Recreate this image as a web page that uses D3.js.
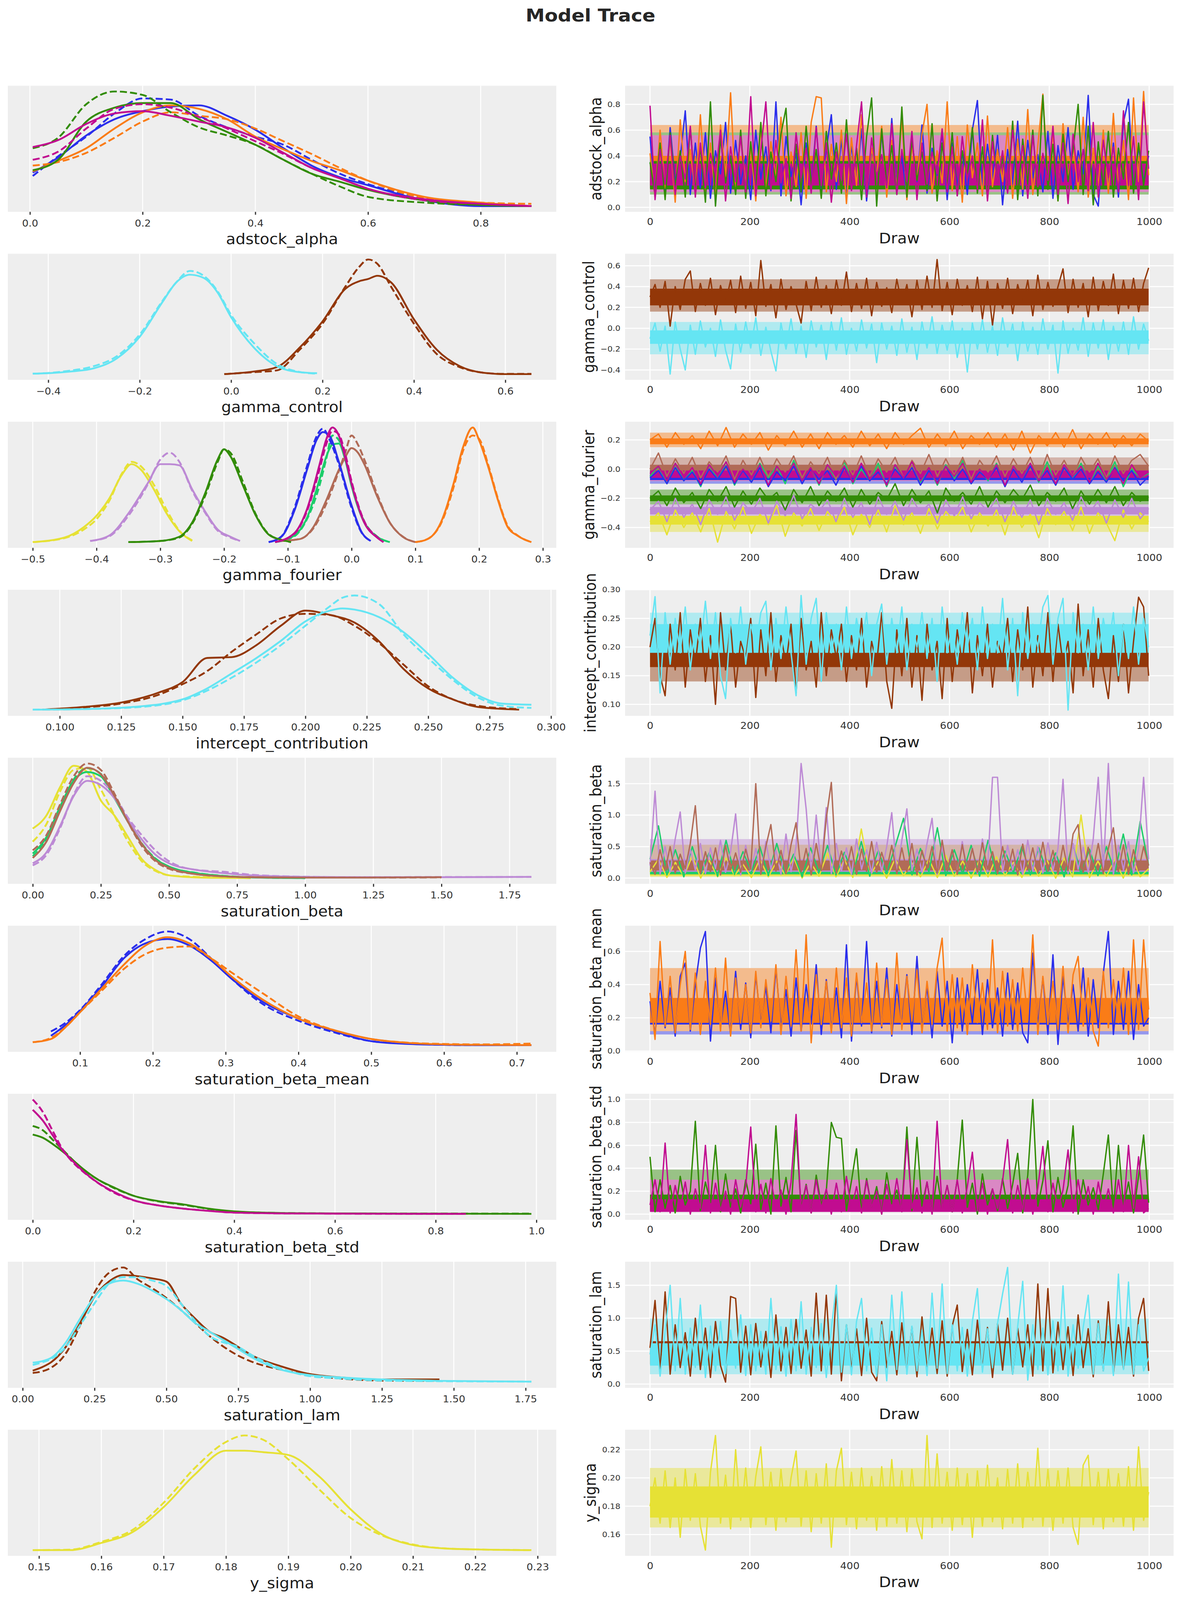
<!DOCTYPE html>
<html>
<head>
<meta charset="utf-8">
<script src="https://cdn.jsdelivr.net/npm/d3@7"></script>
<style>
  html, body { margin: 0; padding: 0; background: #fff; overflow: hidden; }
  svg { display: block; }
</style>
</head>
<body>
<div id="chart"></div>
<script>
// arviz-darkgrid colour cycle
const palette = ["#2a2eec", "#fa7c17", "#328c06", "#c10c90", "#933708", "#65e5f3", "#e6e135", "#1ccd6a", "#bd8ad5", "#b16b57"];
const drawTicks = [0, 200, 400, 600, 800, 1000];

// ---------- adstock_alpha ----------
const adstockAlphaGrid = [0.005, 0.05, 0.1, 0.15, 0.2, 0.25, 0.3, 0.35, 0.4, 0.45, 0.5, 0.55, 0.6, 0.7, 0.8, 0.89];
// relative density per dim: [solid chain, dashed chain]
const adstockAlphaKde = [
  [[0.29,0.42,0.61,0.75,0.82,0.86,0.87,0.78,0.66,0.50,0.35,0.25,0.18,0.05,0.0,0.0],
   [0.26,0.43,0.60,0.80,0.93,0.92,0.78,0.68,0.60,0.53,0.40,0.28,0.19,0.07,0.02,0.0]],
  [[0.30,0.39,0.50,0.67,0.81,0.87,0.84,0.75,0.60,0.49,0.39,0.31,0.22,0.08,0.03,0.0],
   [0.35,0.38,0.46,0.59,0.73,0.81,0.78,0.75,0.67,0.56,0.45,0.33,0.22,0.07,0.03,0.02]],
  [[0.31,0.40,0.73,0.85,0.89,0.89,0.75,0.64,0.53,0.40,0.28,0.21,0.14,0.05,0.01,0.0],
   [0.50,0.59,0.88,0.99,0.96,0.81,0.68,0.61,0.53,0.40,0.28,0.17,0.08,0.03,0.01,0.0]],
  [[0.51,0.57,0.71,0.80,0.82,0.78,0.73,0.68,0.59,0.46,0.33,0.24,0.15,0.06,0.02,0.0],
   [0.40,0.47,0.67,0.84,0.88,0.85,0.77,0.67,0.56,0.45,0.33,0.24,0.15,0.05,0.02,0.0]]
];
const adstockAlphaTrace = [
  [0.55,0.12,0.48,0.09,0.62,0.2,0.38,0.75,0.1,0.5, 0.15,0.58,0.07,0.44,0.26,0.66,0.11,0.52,0.18,0.4, 0.06,0.6,0.22,0.47,0.13,0.82,0.09,0.55,0.24,0.42, 0.02,0.5,0.16,0.63,0.1,0.45,0.72,0.14,0.53,0.08, 0.48,0.19,0.61,0.05,0.44,0.27,0.57,0.12,0.69,0.15,
   0.4,0.08,0.52,0.2,0.64,0.11,0.46,0.25,0.58,0.06, 0.5,0.17,0.43,0.1,0.6,0.83,0.13,0.49,0.21,0.56, 0.02,0.45,0.18,0.67,0.09,0.52,0.23,0.41,0.12,0.59, 0.07,0.48,0.2,0.62,0.14,0.44,0.26,0.87,0.1,0.01, 0.55,0.16,0.5,0.08,0.66,0.84,0.12,0.47,0.2,0.4],
  [0.42,0.08,0.6,0.15,0.53,0.04,0.68,0.2,0.45,0.1, 0.72,0.13,0.5,0.06,0.64,0.24,0.89,0.11,0.56,0.18, 0.47,0.05,0.62,0.14,0.51,0.22,0.7,0.09,0.43,0.16, 0.58,0.07,0.66,0.86,0.85,0.12,0.49,0.2,0.6,0.03, 0.54,0.17,0.72,0.1,0.46,0.25,0.63,0.08,0.52,0.15,
   0.69,0.06,0.48,0.21,0.57,0.8,0.11,0.44,0.19,0.82, 0.13,0.55,0.04,0.64,0.23,0.5,0.09,0.71,0.16,0.45, 0.2,0.62,0.07,0.53,0.14,0.76,0.1,0.48,0.88,0.18, 0.58,0.05,0.65,0.22,0.5,0.12,0.7,0.08,0.46,0.17, 0.6,0.11,0.73,0.15,0.52,0.06,0.85,0.2,0.9,0.25],
  [0.35,0.1,0.5,0.06,0.58,0.16,0.44,0.08,0.62,0.13, 0.47,0.04,0.82,0.01,0.54,0.19,0.4,0.1,0.6,0.07, 0.51,0.15,0.66,0.09,0.43,0.2,0.57,0.77,0.05,0.49, 0.12,0.63,0.18,0.45,0.07,0.59,0.22,0.5,0.11,0.68, 0.14,0.46,0.06,0.55,0.85,0.01,0.61,0.17,0.48,0.1,
   0.78,0.08,0.52,0.21,0.43,0.13,0.65,0.05,0.5,0.16, 0.58,0.09,0.44,0.24,0.62,0.11,0.47,0.07,0.56,0.19, 0.4,0.12,0.67,0.06,0.53,0.18,0.6,0.09,0.87,0.14, 0.49,0.05,0.57,0.2,0.45,0.8,0.1,0.63,0.02,0.51, 0.15,0.59,0.08,0.46,0.22,0.66,0.11,0.5,0.17,0.44],
  [0.79,0.06,0.45,0.18,0.56,0.1,0.4,0.22,0.63,0.08, 0.5,0.15,0.42,0.25,0.6,0.05,0.47,0.2,0.55,0.12, 0.86,0.09,0.44,0.82,0.14,0.52,0.19,0.38,0.07,0.58, 0.23,0.46,0.11,0.62,0.17,0.5,0.04,0.43,0.21,0.57, 0.13,0.48,0.82,0.08,0.54,0.24,0.41,0.15,0.65,0.1,
   0.45,0.2,0.59,0.06,0.5,0.18,0.43,0.26,0.61,0.12, 0.47,0.09,0.55,0.22,0.4,0.14,0.68,0.05,0.51,0.19, 0.44,0.11,0.6,0.25,0.48,0.07,0.56,0.16,0.42,0.21, 0.63,0.1,0.5,0.03,0.57,0.2,0.45,0.13,0.66,0.08, 0.52,0.23,0.47,0.12,0.75,0.17,0.55,0.06,0.82,0.3]
];
const adstockAlphaCore = [[0.15,0.38],[0.15,0.4],[0.14,0.36],[0.17,0.34]];

// ---------- gamma_control ----------
const gammaControlGrid = [
  [-0.015,0.05,0.1,0.15,0.2,0.25,0.28,0.3,0.32,0.35,0.4,0.45,0.5,0.55,0.6,0.657],
  [-0.434,-0.4,-0.35,-0.3,-0.25,-0.2,-0.15,-0.12,-0.09,-0.06,-0.03,0,0.05,0.1,0.15,0.188]
];
const gammaControlKde = [
  [[0,0.023,0.061,0.231,0.459,0.744,0.81,0.83,0.858,0.80,0.478,0.213,0.070,0.013,0,0],
   [0,0.017,0.032,0.213,0.44,0.763,0.934,1.0,0.962,0.763,0.44,0.175,0.061,0.013,0.002,0.002]],
  [[0.004,0.008,0.023,0.051,0.137,0.326,0.63,0.80,0.867,0.839,0.715,0.497,0.231,0.070,0.017,0.008],
   [0.004,0.01,0.032,0.07,0.156,0.345,0.64,0.80,0.90,0.858,0.725,0.516,0.27,0.089,0.019,0.004]]
];
const gammaControlTrace = [
  [0.3,0.42,0.2,0.45,0.02,0.4,0.18,0.47,0.55,0.16, 0.43,0.22,0.48,0.13,0.41,0.24,0.46,0.15,0.5,0.19, 0.44,0.12,0.65,0.21,0.42,0.1,0.47,0.18,0.4,0.23, 0.05,0.45,0.17,0.49,0.2,0.41,0.14,0.46,0.22,0.54, 0.16,0.43,0.19,0.48,0.12,0.44,0.21,0.39,0.15,0.47,
   0.23,0.42,0.11,0.46,0.18,0.5,0.2,0.66,0.17,0.44, 0.13,0.47,0.22,0.41,0.16,0.49,0.09,0.45,0.03,0.43, 0.19,0.48,0.14,0.42,0.23,0.46,0.12,0.51,0.18,0.44, 0.21,0.4,0.57,0.15,0.47,0.2,0.43,0.11,0.49,0.17, 0.45,0.22,0.52,0.14,0.46,0.19,0.48,0.16,0.43,0.58],
  [-0.1,0.05,-0.22,0.02,-0.44,0.06,-0.2,-0.4,0.03,-0.25, 0.07,-0.18,0.0,-0.27,0.08,-0.21,-0.39,0.04,-0.23,0.06, -0.19,0.1,-0.26,0.01,-0.22,-0.41,0.05,-0.2,0.09,-0.24, 0.02,-0.28,0.07,-0.18,0.03,-0.3,0.06,-0.21,0.1,-0.25, 0.0,-0.22,0.08,-0.19,0.04,-0.33,0.05,-0.2,0.02,-0.26,
   0.09,-0.23,0.01,-0.3,0.06,-0.19,0.11,-0.24,0.03,-0.21, 0.07,-0.28,0.0,-0.42,0.05,-0.2,0.08,-0.23,0.02,-0.26, 0.1,-0.18,0.04,-0.31,0.06,-0.22,0.01,-0.25,0.09,-0.2, 0.03,-0.43,0.07,-0.24,0.0,-0.21,0.1,-0.27,0.05,-0.19, 0.08,-0.3,0.02,-0.22,0.06,-0.25,0.11,-0.2,0.04,-0.12]
];
const gammaControlCore = [[0.22,0.38],[-0.15,-0.02]];

// ---------- gamma_fourier ----------
const gammaFourierGrid = [
  [-0.5,-0.45,-0.42,-0.4,-0.38,-0.36,-0.345,-0.33,-0.31,-0.29,-0.27,-0.25],
  [-0.12,-0.09,-0.07,-0.05,-0.04,-0.03,-0.02,-0.01,0,0.02,0.04,0.06],
  [-0.41,-0.38,-0.35,-0.32,-0.3,-0.285,-0.27,-0.25,-0.23,-0.21,-0.19,-0.175],
  [-0.11,-0.08,-0.06,-0.04,-0.02,-0.01,0,0.01,0.02,0.04,0.06,0.08,0.1],
  [-0.13,-0.11,-0.09,-0.07,-0.055,-0.045,-0.035,-0.02,0,0.015,0.03],
  [0.1,0.12,0.14,0.16,0.175,0.19,0.2,0.215,0.23,0.245,0.26,0.282],
  [-0.35,-0.3,-0.27,-0.25,-0.23,-0.21,-0.2,-0.19,-0.17,-0.15,-0.13,-0.11,-0.095],
  [-0.12,-0.09,-0.07,-0.05,-0.04,-0.03,-0.02,-0.01,0,0.02,0.04,0.05]
];
const gammaFourierKde = [
  [[0,0.04,0.13,0.23,0.38,0.59,0.68,0.63,0.46,0.25,0.095,0.01],
   [0,0.035,0.11,0.2,0.36,0.6,0.7,0.66,0.5,0.28,0.1,0.015]],
  [[0,0.057,0.21,0.55,0.74,0.85,0.86,0.72,0.49,0.17,0.047,0],
   [0,0.05,0.2,0.5,0.72,0.93,0.89,0.74,0.5,0.18,0.05,0]],
  [[0.01,0.057,0.25,0.51,0.68,0.68,0.67,0.46,0.27,0.11,0.047,0.01],
   [0.01,0.05,0.23,0.5,0.72,0.78,0.70,0.45,0.26,0.1,0.04,0.01]],
  [[0.01,0.028,0.13,0.36,0.63,0.74,0.82,0.78,0.68,0.40,0.17,0.047,0],
   [0.01,0.03,0.12,0.33,0.62,0.78,0.93,0.85,0.72,0.42,0.17,0.05,0]],
  [[0,0.047,0.27,0.63,0.89,0.96,0.93,0.70,0.32,0.095,0.01],
   [0,0.05,0.29,0.66,0.92,0.99,0.9,0.68,0.3,0.09,0.01]],
  [[0,0.028,0.17,0.51,0.83,1.0,0.89,0.645,0.36,0.13,0.057,0],
   [0,0.03,0.16,0.48,0.8,0.93,0.9,0.66,0.37,0.14,0.06,0]],
  [[0,0.01,0.047,0.17,0.42,0.72,0.81,0.75,0.49,0.23,0.066,0.02,0],
   [0,0.01,0.04,0.16,0.4,0.7,0.81,0.78,0.52,0.24,0.07,0.02,0]],
  [[0,0.076,0.285,0.68,0.89,1.0,0.93,0.74,0.51,0.17,0.04,0],
   [0,0.07,0.27,0.64,0.85,0.97,0.94,0.77,0.53,0.18,0.045,0]]
];
const gammaFourierTrace = [
  [-0.36,-0.3,-0.45,-0.28,-0.4,-0.3,-0.43,-0.27,-0.5,-0.29,-0.41,-0.26,-0.44,-0.31,-0.38,-0.25,-0.46,-0.3,-0.39,-0.27,-0.42,-0.29,-0.37,-0.26,-0.45,-0.31,-0.4,-0.28,-0.43,-0.25,-0.38,-0.3,-0.44,-0.27,-0.41,-0.29,-0.36,-0.26,-0.43,-0.3,-0.39,-0.28,-0.45,-0.26,-0.4,-0.31,-0.47,-0.27,-0.38,-0.29,-0.42,-0.26,-0.44,-0.3,-0.37,-0.49,-0.28,-0.41,-0.3,-0.36],
  [-0.05,0.02,-0.1,0.04,-0.08,-0.01,-0.12,0.03,-0.07,0.05,-0.11,0.0,-0.09,0.04,-0.06,0.02,-0.1,0.06,-0.08,0.01,-0.11,0.03,-0.07,0.05,-0.1,0.0,-0.08,0.04,-0.12,0.02,-0.06,0.05,-0.09,0.01,-0.11,0.03,-0.07,0.06,-0.1,0.0,-0.08,0.04,-0.12,0.02,-0.06,0.03,-0.09,0.05,-0.11,0.01,-0.07,0.04,-0.1,0.02,-0.08,0.05,-0.12,0.0,-0.06,-0.03],
  [-0.28,-0.22,-0.36,-0.2,-0.33,-0.24,-0.38,-0.21,-0.31,-0.19,-0.35,-0.23,-0.3,-0.2,-0.37,-0.22,-0.32,-0.18,-0.34,-0.24,-0.29,-0.21,-0.36,-0.2,-0.33,-0.23,-0.38,-0.19,-0.31,-0.22,-0.35,-0.2,-0.3,-0.24,-0.37,-0.21,-0.32,-0.19,-0.34,-0.23,-0.29,-0.2,-0.36,-0.22,-0.33,-0.21,-0.38,-0.2,-0.31,-0.23,-0.35,-0.19,-0.3,-0.22,-0.37,-0.21,-0.33,-0.2,-0.34,-0.27],
  [0.0,0.11,-0.05,0.07,-0.03,0.08,-0.06,0.05,-0.02,0.09,-0.07,0.06,-0.04,0.08,-0.05,0.07,-0.02,0.09,-0.06,0.05,-0.03,0.08,-0.07,0.06,-0.04,0.09,-0.05,0.07,-0.02,0.08,-0.06,0.06,-0.03,0.1,-0.05,0.07,-0.04,0.08,-0.07,0.06,-0.02,0.09,-0.05,0.07,-0.03,0.08,-0.06,0.1,-0.04,0.06,-0.05,0.08,-0.02,0.07,-0.06,0.09,-0.03,0.06,0.1,0.02],
  [-0.06,-0.01,-0.1,0.01,-0.08,-0.02,-0.11,0.0,-0.07,0.02,-0.1,-0.01,-0.09,0.01,-0.12,-0.02,-0.08,0.02,-0.1,0.0,-0.07,-0.01,-0.11,0.01,-0.09,0.02,-0.08,-0.02,-0.1,0.0,-0.07,0.01,-0.11,-0.01,-0.09,0.02,-0.08,0.0,-0.1,-0.02,-0.07,0.01,-0.12,0.0,-0.09,0.02,-0.08,-0.01,-0.11,0.01,-0.07,0.0,-0.1,-0.02,-0.09,0.01,-0.08,-0.01,-0.11,-0.05],
  [0.2,0.24,0.15,0.25,0.17,0.23,0.14,0.26,0.16,0.285,0.15,0.24,0.17,0.25,0.13,0.23,0.16,0.26,0.15,0.24,0.14,0.25,0.17,0.23,0.15,0.26,0.16,0.24,0.14,0.25,0.17,0.23,0.28,0.15,0.24,0.16,0.26,0.14,0.23,0.17,0.25,0.15,0.24,0.13,0.26,0.11,0.23,0.16,0.25,0.15,0.27,0.14,0.24,0.17,0.25,0.15,0.23,0.16,0.24,0.19],
  [-0.2,-0.15,-0.25,-0.13,-0.23,-0.16,-0.27,-0.14,-0.22,-0.12,-0.26,-0.15,-0.24,-0.13,-0.21,-0.16,-0.28,-0.14,-0.23,-0.12,-0.25,-0.15,-0.22,-0.13,-0.26,-0.14,-0.24,-0.16,-0.21,-0.1,-0.25,-0.14,-0.23,-0.15,-0.3,-0.13,-0.22,-0.16,-0.24,-0.12,-0.26,-0.15,-0.23,-0.14,-0.21,-0.11,-0.25,-0.16,-0.22,-0.13,-0.27,-0.15,-0.24,-0.14,-0.23,-0.12,-0.25,-0.16,-0.22,-0.19],
  [-0.03,0.02,-0.08,0.04,-0.06,0.01,-0.1,0.03,-0.05,0.05,-0.09,0.0,-0.07,0.03,-0.11,0.02,-0.06,0.04,-0.08,0.01,-0.1,0.03,-0.05,0.02,-0.09,0.04,-0.07,0.0,-0.11,0.03,-0.06,0.05,-0.08,0.01,-0.1,0.02,-0.05,0.04,-0.09,0.0,-0.07,0.03,-0.11,0.02,-0.06,0.04,-0.08,0.01,-0.1,0.03,-0.05,0.02,-0.09,0.04,-0.07,0.0,-0.1,0.03,-0.06,-0.02]
];
const gammaFourierCore = [[-0.38,-0.32],[-0.06,-0.01],[-0.31,-0.26],[-0.02,0.03],[-0.075,-0.03],[0.17,0.21],[-0.22,-0.18],[-0.06,-0.01]];

// ---------- intercept_contribution ----------
const interceptGrid = [
  [0.093,0.11,0.125,0.14,0.15,0.16,0.17,0.18,0.19,0.2,0.21,0.22,0.23,0.24,0.25,0.26,0.27,0.287],
  [0.089,0.11,0.13,0.15,0.16,0.17,0.18,0.19,0.2,0.21,0.215,0.22,0.23,0.24,0.25,0.26,0.27,0.28,0.292]
];
const interceptKde = [
  [[0.004,0.028,0.066,0.151,0.245,0.455,0.462,0.566,0.736,0.868,0.83,0.764,0.60,0.358,0.189,0.094,0.028,0.004],
   [0.004,0.023,0.057,0.132,0.226,0.34,0.509,0.66,0.80,0.84,0.83,0.736,0.585,0.396,0.208,0.094,0.038,0.009]],
  [[0.004,0.009,0.028,0.094,0.189,0.32,0.453,0.604,0.774,0.868,0.887,0.877,0.811,0.679,0.49,0.283,0.132,0.057,0.047],
   [0.004,0.009,0.023,0.085,0.17,0.283,0.415,0.566,0.736,0.906,0.98,1.0,0.925,0.66,0.453,0.264,0.113,0.038,0.019]]
];
const interceptTrace = [
  [0.2,0.25,0.15,0.115,0.24,0.16,0.26,0.13,0.23,0.17, 0.25,0.14,0.22,0.1,0.26,0.16,0.24,0.13,0.21,0.18, 0.25,0.112,0.23,0.15,0.26,0.14,0.22,0.17,0.24,0.12, 0.25,0.16,0.21,0.13,0.26,0.15,0.23,0.18,0.24,0.14, 0.22,0.16,0.25,0.13,0.21,0.17,0.26,0.14,0.093,0.23,
   0.15,0.25,0.13,0.22,0.107,0.24,0.16,0.21,0.11,0.25, 0.14,0.23,0.17,0.26,0.12,0.22,0.15,0.24,0.13,0.21, 0.18,0.25,0.14,0.23,0.16,0.27,0.13,0.22,0.15,0.26, 0.14,0.24,0.17,0.21,0.12,0.275,0.15,0.23,0.13,0.25, 0.16,0.11,0.22,0.14,0.24,0.12,0.21,0.287,0.27,0.15],
  [0.22,0.288,0.12,0.26,0.17,0.25,0.19,0.27,0.16,0.24, 0.2,0.28,0.18,0.26,0.15,0.11,0.25,0.19,0.27,0.17, 0.24,0.2,0.26,0.28,0.16,0.25,0.18,0.27,0.19,0.115, 0.29,0.17,0.25,0.285,0.14,0.26,0.19,0.24,0.16,0.27, 0.18,0.25,0.2,0.26,0.15,0.24,0.275,0.17,0.25,0.19,
   0.27,0.16,0.24,0.2,0.26,0.18,0.25,0.14,0.27,0.19, 0.24,0.17,0.26,0.2,0.25,0.16,0.27,0.18,0.24,0.19, 0.285,0.16,0.25,0.115,0.26,0.18,0.24,0.2,0.27,0.29, 0.17,0.25,0.285,0.09,0.26,0.19,0.24,0.16,0.27,0.18, 0.25,0.2,0.26,0.15,0.24,0.18,0.27,0.17,0.25,0.2]
];
const interceptCore = [[0.165,0.21],[0.19,0.24]];

// ---------- saturation_beta ----------
const satBetaGridFull = [0,0.05,0.1,0.15,0.2,0.25,0.3,0.35,0.4,0.45,0.5,0.6,0.7,0.8,1.0,1.2,1.5,1.83];
const satBetaGrid = [
  [0,0.05,0.1,0.15,0.2,0.25,0.3,0.35,0.4,0.45,0.5,0.6,0.7,0.8],
  [0,0.05,0.1,0.15,0.2,0.25,0.3,0.35,0.4,0.45,0.5,0.6,0.7,0.8,1.0],
  satBetaGridFull,
  [0,0.05,0.1,0.15,0.2,0.25,0.3,0.35,0.4,0.45,0.5,0.6,0.7,0.8,1.0,1.2,1.5]
];
const satBetaKde = [
  [[0.428,0.54,0.784,0.97,0.916,0.67,0.54,0.353,0.165,0.071,0.024,0.006,0.002,0],
   [0.315,0.465,0.747,0.934,0.953,0.765,0.54,0.315,0.146,0.062,0.024,0.011,0.004,0]],
  [[0.212,0.353,0.615,0.84,0.916,0.878,0.69,0.484,0.296,0.165,0.10,0.043,0.019,0.006,0],
   [0.19,0.33,0.6,0.85,0.95,0.9,0.7,0.49,0.3,0.17,0.1,0.045,0.02,0.007,0]],
  [[0.128,0.221,0.447,0.709,0.84,0.803,0.69,0.503,0.334,0.203,0.128,0.071,0.043,0.024,0.011,0.008,0.008,0.011],
   [0.11,0.2,0.43,0.72,0.88,0.84,0.709,0.52,0.37,0.24,0.146,0.071,0.055,0.03,0.012,0.008,0.01,0.01]],
  [[0.174,0.315,0.578,0.82,0.953,0.897,0.709,0.484,0.296,0.156,0.09,0.034,0.015,0.008,0.004,0.004,0.008],
   [0.24,0.37,0.634,0.878,0.99,0.934,0.728,0.484,0.278,0.146,0.08,0.034,0.015,0.008,0.004,0.004,0.006]]
];
const satBetaTrace = [
  [0.1,0.3,0.01,0.25,0.03,0.35,0.0,0.28,0.02,0.32,0.04,0.22,0.01,0.3,0.02,0.27,0.05,0.33,0.0,0.25,0.03,0.4,0.02,0.29,0.01,0.78,0.03,0.26,0.0,0.31,0.04,0.24,0.02,0.3,0.01,0.36,0.03,0.27,0.0,0.29,0.02,0.34,0.04,0.25,0.01,0.3,0.03,0.28,0.0,0.32,0.02,1.0,0.01,0.27,0.03,0.3,0.0,0.35,0.02,0.15],
  [0.3,0.83,0.05,0.45,0.02,0.5,0.08,0.4,0.03,0.6,0.06,0.42,0.1,0.5,0.04,0.55,0.07,0.38,0.02,0.48,0.09,0.52,0.05,0.41,0.06,0.58,0.03,0.44,0.08,0.5,0.95,0.05,0.47,0.1,0.8,0.04,0.45,0.07,0.52,0.03,0.6,0.06,0.43,0.09,0.5,0.05,0.48,0.08,0.4,0.02,0.55,0.07,0.46,0.04,0.5,0.09,0.7,0.05,0.9,0.2],
  [0.2,1.38,0.06,0.5,0.1,0.62,1.05,0.08,0.45,0.13, 0.55,0.07,0.48,0.15,0.6,0.09,0.42,1.02,0.05,0.52, 0.12,0.47,0.08,0.58,0.14,0.44,0.06,0.7,0.1,0.5, 1.82,1.1,0.09,1.0,0.13,1.12,0.07,0.55,0.11,0.48, 0.06,0.62,0.14,0.45,0.08,0.57,0.1,0.5,1.04,0.07,
   0.6,1.1,0.12,0.46,0.09,0.55,0.95,0.06,0.5,0.13, 0.44,0.08,0.58,0.11,0.48,0.07,0.62,0.1,1.6,1.6, 0.09,0.52,0.13,0.45,0.06,0.6,0.11,0.5,0.08,0.56, 0.12,0.47,1.57,0.07,0.55,0.14,0.49,0.09,0.62,1.6, 0.1,1.82,0.06,0.52,0.13,0.58,0.08,0.47,1.6,0.3],
  [0.25,0.06,0.45,0.12,0.5,0.08,0.38,0.15,0.55,1.15, 0.07,0.42,0.1,0.48,0.05,0.52,0.13,0.4,0.09,0.46, 0.14,1.5,0.06,0.5,0.85,0.11,0.44,0.07,0.53,0.88, 0.1,0.47,0.05,0.55,0.12,0.95,1.52,0.08,0.43,0.14, 0.5,0.06,0.46,0.11,0.58,0.09,0.41,0.13,0.52,0.07,
   0.48,0.1,0.55,0.05,0.44,0.15,0.5,0.08,0.6,0.12, 0.45,0.06,0.53,0.11,0.47,0.09,0.56,0.14,0.42,0.07, 0.5,0.1,0.46,0.05,0.54,0.13,0.48,0.08,0.57,0.11, 0.44,0.06,0.52,0.12,0.7,0.85,0.09,0.49,0.14,0.55, 0.07,0.47,0.8,0.1,0.53,0.06,0.45,0.12,0.5,0.2]
];
const satBetaCore = [[0.04,0.15],[0.06,0.22],[0.1,0.3],[0.12,0.28]];

// ---------- saturation_beta_mean ----------
const satBetaMeanGrid = [
  [0.06,0.08,0.1,0.13,0.16,0.19,0.22,0.25,0.28,0.31,0.35,0.4,0.45,0.5,0.55,0.6,0.65,0.72],
  [0.035,0.06,0.08,0.1,0.13,0.16,0.19,0.22,0.25,0.28,0.31,0.35,0.4,0.45,0.5,0.55,0.6,0.65,0.72]
];
const satBetaMeanKde = [
  [[0.09,0.184,0.306,0.522,0.765,0.897,0.934,0.878,0.747,0.578,0.39,0.24,0.128,0.043,0.019,0.011,0.008,0.008],
   [0.128,0.203,0.315,0.54,0.784,0.934,1.0,0.934,0.765,0.578,0.371,0.221,0.118,0.043,0.022,0.011,0.008,0.008]],
  [[0.034,0.062,0.165,0.296,0.503,0.709,0.878,0.95,0.897,0.765,0.597,0.409,0.24,0.137,0.062,0.028,0.015,0.011,0.009],
   [0.034,0.071,0.165,0.296,0.484,0.672,0.803,0.859,0.869,0.765,0.634,0.465,0.259,0.137,0.062,0.03,0.019,0.015,0.022]]
];
const satBetaMeanTrace = [
  [0.3,0.1,0.42,0.14,0.38,0.09,0.45,0.53,0.12,0.4, 0.62,0.72,0.06,0.44,0.15,0.36,0.1,0.48,0.13,0.41, 0.08,0.46,0.16,0.39,0.11,0.5,0.14,0.37,0.09,0.44, 0.12,0.4,0.17,0.52,0.1,0.43,0.13,0.38,0.08,0.64, 0.06,0.45,0.15,0.66,0.11,0.42,0.14,0.5,0.09,0.4,
   0.16,0.46,0.1,0.57,0.13,0.39,0.08,0.48,0.15,0.42, 0.05,0.44,0.12,0.4,0.17,0.49,0.1,0.43,0.14,0.38, 0.09,0.47,0.13,0.41,0.11,0.05,0.59,0.15,0.44,0.1, 0.58,0.04,0.45,0.16,0.4,0.12,0.5,0.09,0.43,0.14, 0.47,0.72,0.1,0.42,0.13,0.48,0.07,0.4,0.15,0.2],
  [0.35,0.07,0.66,0.15,0.45,0.11,0.4,0.6,0.13,0.47, 0.1,0.42,0.16,0.5,0.12,0.56,0.09,0.44,0.17,0.4, 0.11,0.48,0.14,0.43,0.18,0.52,0.1,0.45,0.15,0.61, 0.12,0.7,0.05,0.46,0.16,0.42,0.11,0.5,0.14,0.44, 0.09,0.47,0.17,0.41,0.12,0.53,0.15,0.43,0.1,0.59,
   0.13,0.45,0.18,0.49,0.11,0.42,0.16,0.5,0.68,0.12, 0.46,0.14,0.44,0.1,0.52,0.17,0.41,0.13,0.67,0.11, 0.48,0.15,0.43,0.12,0.5,0.18,0.7,0.1,0.45,0.16, 0.42,0.13,0.51,0.11,0.46,0.57,0.15,0.44,0.12,0.03, 0.48,0.14,0.43,0.17,0.5,0.1,0.67,0.13,0.67,0.25]
];
const satBetaMeanCore = [[0.16,0.3],[0.17,0.32]];

// ---------- saturation_beta_std ----------
const satBetaStdGrid = [
  [0,0.02,0.04,0.06,0.08,0.1,0.13,0.16,0.2,0.25,0.3,0.35,0.4,0.5,0.6,0.8,0.99],
  [0,0.02,0.04,0.06,0.08,0.1,0.13,0.16,0.2,0.25,0.3,0.35,0.4,0.5,0.6,0.86]
];
const satBetaStdKde = [
  [[0.694,0.666,0.61,0.544,0.469,0.394,0.30,0.235,0.16,0.113,0.084,0.047,0.024,0.009,0.006,0.004,0.002],
   [0.769,0.732,0.647,0.56,0.47,0.39,0.3,0.23,0.16,0.11,0.08,0.045,0.022,0.009,0.006,0.004,0.004]],
  [[0.91,0.816,0.685,0.553,0.46,0.375,0.272,0.197,0.122,0.075,0.047,0.028,0.013,0.006,0.004,0.002],
   [1.0,0.891,0.722,0.56,0.45,0.37,0.27,0.19,0.12,0.075,0.047,0.028,0.013,0.006,0.004,0.002]]
];
const satBetaStdTrace = [
  [0.5,0.02,0.3,0.05,0.25,0.01,0.33,0.08,0.2,0.81, 0.03,0.28,0.1,0.6,0.02,0.35,0.06,0.22,0.01,0.3, 0.09,0.61,0.04,0.27,0.0,0.77,0.07,0.32,0.02,0.73, 0.05,0.26,0.01,0.34,0.08,0.2,0.8,0.67,0.66,0.03, 0.29,0.57,0.02,0.31,0.06,0.24,0.0,0.36,0.09,0.21,
   0.04,0.76,0.03,0.67,0.07,0.28,0.01,0.33,0.05,0.25, 0.02,0.3,0.82,0.06,0.27,0.0,0.35,0.08,0.22,0.03, 0.31,0.05,0.26,0.53,0.01,0.34,1.0,0.07,0.29,0.64, 0.02,0.32,0.06,0.25,0.77,0.0,0.3,0.08,0.23,0.04, 0.35,0.69,0.03,0.6,0.07,0.28,0.01,0.33,0.69,0.1],
  [0.08,0.3,0.02,0.62,0.01,0.25,0.04,0.28,0.0,0.22, 0.05,0.6,0.01,0.27,0.03,0.2,0.0,0.3,0.06,0.24, 0.76,0.02,0.26,0.01,0.31,0.04,0.21,0.0,0.28,0.87, 0.03,0.25,0.01,0.3,0.05,0.22,0.0,0.27,0.02,0.33, 0.04,0.24,0.01,0.29,0.06,0.2,0.0,0.26,0.03,0.31,
   0.02,0.65,0.05,0.23,0.01,0.28,0.0,0.81,0.04,0.25, 0.02,0.3,0.01,0.24,0.54,0.03,0.27,0.0,0.22,0.05, 0.29,0.65,0.01,0.25,0.04,0.31,0.0,0.23,0.59,0.02, 0.27,0.05,0.21,0.56,0.01,0.3,0.03,0.24,0.0,0.28, 0.04,0.22,0.01,0.3,0.02,0.6,0.05,0.5,0.01,0.05]
];
const satBetaStdCore = [[0.03,0.17],[0.02,0.13]];

// ---------- saturation_lam ----------
const satLamGrid = [
  [0.035,0.07,0.1,0.15,0.2,0.25,0.3,0.35,0.4,0.45,0.5,0.55,0.6,0.65,0.7,0.75,0.8,0.9,1.0,1.1,1.25,1.45],
  [0.035,0.07,0.1,0.15,0.2,0.25,0.3,0.35,0.4,0.45,0.5,0.55,0.6,0.65,0.7,0.75,0.8,0.9,1.0,1.1,1.25,1.45,1.77]
];
const satLamKde = [
  [[0.10,0.133,0.175,0.307,0.516,0.744,0.877,0.934,0.924,0.905,0.877,0.687,0.554,0.44,0.383,0.307,0.231,0.137,0.07,0.042,0.023,0.023],
   [0.08,0.095,0.127,0.25,0.497,0.782,0.953,1.0,0.896,0.82,0.734,0.63,0.516,0.402,0.307,0.231,0.175,0.108,0.061,0.032,0.013,0.011]],
  [[0.17,0.184,0.213,0.345,0.554,0.744,0.858,0.886,0.858,0.80,0.725,0.63,0.516,0.44,0.364,0.288,0.213,0.108,0.061,0.042,0.023,0.011,0.004],
   [0.15,0.174,0.203,0.307,0.497,0.687,0.858,0.915,0.915,0.886,0.839,0.687,0.535,0.402,0.345,0.307,0.231,0.118,0.051,0.032,0.013,0.008,0.004]]
];
const satLamTrace = [
  [0.55,1.27,0.2,1.4,0.15,0.9,0.25,0.78,0.12,1.0, 0.22,0.85,0.1,0.95,0.28,0.03,1.33,1.3,0.18,0.88, 0.14,0.92,0.26,0.8,0.1,1.05,0.2,0.86,0.16,0.98, 0.24,0.82,0.12,1.38,0.2,1.35,0.15,1.42,0.05,0.9, 0.22,0.84,0.13,1.0,0.18,0.05,0.95,0.25,0.8,0.14,
   0.93,0.2,0.87,0.11,1.02,0.23,0.85,0.16,0.96,0.12, 0.88,1.2,0.19,0.83,0.14,0.97,0.24,0.86,0.1,0.92, 0.21,1.0,0.15,0.85,0.26,0.9,0.12,1.52,0.2,1.45, 0.17,0.94,0.22,0.87,0.13,1.05,0.25,0.84,0.11,0.96, 0.2,1.25,0.15,0.9,0.23,0.86,0.12,1.0,1.3,0.2],
  [0.45,0.9,0.12,0.8,1.5,0.2,1.3,0.15,0.85,0.25, 1.2,0.1,0.88,0.2,0.95,0.16,0.82,0.24,1.05,0.13, 0.9,0.2,0.8,0.15,1.3,0.22,0.87,0.12,0.98,0.2, 1.25,0.15,0.86,0.25,0.92,0.1,0.84,1.5,0.18,0.9, 0.14,0.95,1.3,0.2,0.85,0.12,0.9,0.05,1.35,0.22,
   1.4,0.15,0.88,0.2,0.82,0.13,1.38,0.24,1.52,0.16, 0.9,0.2,0.86,0.12,0.95,1.45,0.18,0.84,0.25,0.92, 1.37,1.77,0.15,0.88,1.56,0.06,0.9,0.22,0.85,0.14, 0.96,0.2,1.49,0.12,0.9,0.24,0.86,1.35,0.15,0.92, 0.2,0.88,0.13,1.67,0.22,1.55,0.15,0.9,0.2,0.4]
];
const satLamCore = [[0.3,0.65],[0.28,0.62]];

// ---------- y_sigma ----------
const ySigmaGrid = [[0.149,0.155,0.16,0.165,0.17,0.175,0.18,0.183,0.186,0.19,0.195,0.2,0.205,0.21,0.215,0.22,0.229]];
const ySigmaKde = [
  [[0,0,0.0625,0.157,0.375,0.659,0.867,0.867,0.854,0.83,0.64,0.356,0.138,0.044,0.015,0.006,0],
   [0,0.004,0.072,0.176,0.413,0.716,0.943,1.0,0.962,0.792,0.527,0.28,0.129,0.049,0.015,0.006,0]]
];
const ySigmaTrace = [
  [0.18,0.2,0.168,0.205,0.165,0.2,0.158,0.206,0.17,0.203, 0.166,0.149,0.204,0.23,0.168,0.202,0.164,0.22,0.17,0.207, 0.165,0.201,0.222,0.167,0.204,0.163,0.206,0.169,0.2,0.219, 0.166,0.205,0.162,0.203,0.168,0.21,0.151,0.205,0.221,0.167, 0.204,0.164,0.207,0.17,0.201,0.163,0.208,0.166,0.213,0.168,
   0.205,0.162,0.206,0.169,0.157,0.23,0.165,0.217,0.168,0.204, 0.163,0.207,0.167,0.203,0.158,0.205,0.166,0.209,0.169,0.2, 0.164,0.206,0.168,0.21,0.165,0.204,0.17,0.221,0.166,0.206, 0.163,0.205,0.168,0.207,0.165,0.153,0.209,0.216,0.167,0.204, 0.164,0.206,0.169,0.203,0.166,0.208,0.163,0.222,0.17,0.19]
];
const ySigmaCore = [[0.172,0.194]];

// table of rows built from the arrays above
const rows = [
  {name: "adstock_alpha", colors: [0,1,2,3], grid: [adstockAlphaGrid, adstockAlphaGrid, adstockAlphaGrid, adstockAlphaGrid], kde: adstockAlphaKde, trace: adstockAlphaTrace, core: adstockAlphaCore,
   kdeTicks: [0,0.2,0.4,0.6,0.8], kdeFmt: ".1f", traceTicks: [0,0.2,0.4,0.6,0.8], traceFmt: ".1f"},
  {name: "gamma_control", colors: [4,5], grid: gammaControlGrid, kde: gammaControlKde, trace: gammaControlTrace, core: gammaControlCore,
   kdeTicks: [-0.4,-0.2,0,0.2,0.4,0.6], kdeFmt: ".1f", traceTicks: [-0.4,-0.2,0,0.2,0.4,0.6], traceFmt: ".1f"},
  {name: "gamma_fourier", colors: [6,7,8,9,0,1,2,3], grid: gammaFourierGrid, kde: gammaFourierKde, trace: gammaFourierTrace, core: gammaFourierCore,
   kdeTicks: [-0.5,-0.4,-0.3,-0.2,-0.1,0,0.1,0.2,0.3], kdeFmt: ".1f", traceTicks: [-0.4,-0.2,0,0.2], traceFmt: ".1f"},
  {name: "intercept_contribution", colors: [4,5], grid: interceptGrid, kde: interceptKde, trace: interceptTrace, core: interceptCore,
   kdeTicks: [0.1,0.125,0.15,0.175,0.2,0.225,0.25,0.275,0.3], kdeFmt: ".3f", traceTicks: [0.1,0.15,0.2,0.25,0.3], traceFmt: ".2f"},
  {name: "saturation_beta", colors: [6,7,8,9], grid: satBetaGrid, kde: satBetaKde, trace: satBetaTrace, core: satBetaCore,
   kdeTicks: [0,0.25,0.5,0.75,1,1.25,1.5,1.75], kdeFmt: ".2f", traceTicks: [0,0.5,1,1.5], traceFmt: ".1f"},
  {name: "saturation_beta_mean", colors: [0,1], grid: satBetaMeanGrid, kde: satBetaMeanKde, trace: satBetaMeanTrace, core: satBetaMeanCore,
   kdeTicks: [0.1,0.2,0.3,0.4,0.5,0.6,0.7], kdeFmt: ".1f", traceTicks: [0,0.2,0.4,0.6], traceFmt: ".1f"},
  {name: "saturation_beta_std", colors: [2,3], grid: satBetaStdGrid, kde: satBetaStdKde, trace: satBetaStdTrace, core: satBetaStdCore,
   kdeTicks: [0,0.2,0.4,0.6,0.8,1.0], kdeFmt: ".1f", traceTicks: [0,0.2,0.4,0.6,0.8,1.0], traceFmt: ".1f"},
  {name: "saturation_lam", colors: [4,5], grid: satLamGrid, kde: satLamKde, trace: satLamTrace, core: satLamCore,
   kdeTicks: [0,0.25,0.5,0.75,1,1.25,1.5,1.75], kdeFmt: ".2f", traceTicks: [0,0.5,1,1.5], traceFmt: ".1f"},
  {name: "y_sigma", colors: [6], grid: ySigmaGrid, kde: ySigmaKde, trace: ySigmaTrace, core: ySigmaCore,
   kdeTicks: [0.15,0.16,0.17,0.18,0.19,0.2,0.21,0.22,0.23], kdeFmt: ".2f", traceTicks: [0.16,0.18,0.2,0.22], traceFmt: ".2f"}
];

// layout (drawn in a 3023 x 4441 coordinate space, fitted to the window)
const W = 3023, H = 4441;
const panelW = 1404, panelH = 350;
const leftX = 20, rightX = 1600, top0 = 238, rowStep = 466.3;
const bg = "#eeeeee", tickColor = "#333333", labelColor = "#1a1a1a";

// matplotlib style 5% margins
const pad = ([lo, hi]) => { const m = (hi - lo) * 0.05; return [lo - m, hi + m]; };

const vw = window.innerWidth || W, vh = window.innerHeight || H;
const svg = d3.select("#chart").append("svg")
    .attr("width", vw)
    .attr("height", vh)
    .attr("viewBox", `0 0 ${W} ${H}`)
    .attr("preserveAspectRatio", "none")
    .style("font-family", "'DejaVu Sans', sans-serif");

svg.append("text")
    .attr("x", W / 2)
    .attr("y", 60)
    .attr("text-anchor", "middle")
    .attr("font-size", 49)
    .attr("font-weight", "bold")
    .attr("fill", "#262626")
    .text("Model Trace");

function styleAxis(g, fontSize) {
    g.select(".domain").remove();
    g.selectAll(".tick line").attr("stroke", tickColor).attr("stroke-width", 3);
    g.selectAll(".tick text").attr("fill", tickColor).attr("font-size", fontSize).attr("font-family", "'DejaVu Sans', sans-serif");
}

rows.forEach((row, r) => {
    const top = top0 + r * rowStep;

    // ---------------- density (left) ----------------
    const gl = svg.append("g").attr("transform", `translate(${leftX},${top})`);
    gl.append("rect").attr("width", panelW).attr("height", panelH).attr("fill", bg);

    const x = d3.scaleLinear().domain(pad(d3.extent(row.grid.flat()))).range([0, panelW]);
    const yMax = d3.max(row.kde.flat(2));
    const y = d3.scaleLinear().domain(pad([0, yMax])).range([panelH, 0]);

    gl.append("g").selectAll("line")
        .data(row.kdeTicks)
        .join("line")
        .attr("x1", d => x(d)).attr("x2", d => x(d))
        .attr("y1", 0).attr("y2", panelH)
        .attr("stroke", "#fff").attr("stroke-width", 2.5);

    const kdeLine = d3.line().curve(d3.curveMonotoneX);
    row.kde.forEach((chains, i) => {
        chains.forEach((dens, c) => {
            gl.append("path")
                .attr("d", kdeLine(dens.map((v, k) => [x(row.grid[i][k]), y(v)])))
                .attr("fill", "none")
                .attr("stroke", palette[row.colors[i]])
                .attr("stroke-width", 5)
                .attr("stroke-dasharray", c ? "18,8" : null);
        });
    });

    const axL = gl.append("g")
        .attr("transform", `translate(0,${panelH})`)
        .call(d3.axisBottom(x).tickValues(row.kdeTicks).tickFormat(d3.format(row.kdeFmt)).tickSize(8).tickPadding(14));
    styleAxis(axL, 26);

    gl.append("text")
        .attr("x", panelW / 2)
        .attr("y", panelH + 90)
        .attr("text-anchor", "middle")
        .attr("font-size", 40)
        .attr("fill", labelColor)
        .text(row.name);

    // ---------------- trace (right) ----------------
    const gr = svg.append("g").attr("transform", `translate(${rightX},${top})`);
    gr.append("rect").attr("width", panelW).attr("height", panelH).attr("fill", bg);

    const xr = d3.scaleLinear().domain(pad([0, 999])).range([0, panelW]);
    const yr = d3.scaleLinear().domain(pad(d3.extent(row.trace.flat()))).range([panelH, 0]);

    gr.append("g").selectAll("line")
        .data(drawTicks)
        .join("line")
        .attr("x1", d => xr(d)).attr("x2", d => xr(d))
        .attr("y1", 0).attr("y2", panelH)
        .attr("stroke", "#fff").attr("stroke-width", 3);
    gr.append("g").selectAll("line")
        .data(row.traceTicks)
        .join("line")
        .attr("x1", 0).attr("x2", panelW)
        .attr("y1", d => yr(d)).attr("y2", d => yr(d))
        .attr("stroke", "#fff").attr("stroke-width", 3);

    const band = d3.area().x(d => xr(d));
    const traceLine = d3.line();
    const hazeLayer = gr.append("g"), coreLayer = gr.append("g"), lineLayer = gr.append("g");
    row.trace.forEach((vals, i) => {
        const col = palette[row.colors[i]];
        const [lo, hi] = row.core[i];
        // lighter spread of the draws (20th-80th percentile) under the dense core
        const sorted = vals.slice().sort(d3.ascending);
        const qLo = d3.quantileSorted(sorted, 0.2), qHi = d3.quantileSorted(sorted, 0.8);
        hazeLayer.append("path")
            .attr("d", band.y0(yr(qLo)).y1(yr(qHi))([0, 999]))
            .attr("fill", d3.interpolateRgb(bg, col)(0.45));
        coreLayer.append("path")
            .attr("d", band.y0(yr(lo)).y1(yr(hi))([0, 999]))
            .attr("fill", col);
        const step = 999 / (vals.length - 1);
        lineLayer.append("path")
            .attr("d", traceLine(vals.map((v, k) => [xr(k * step), yr(v)])))
            .attr("fill", "none")
            .attr("stroke", col)
            .attr("stroke-width", 3.5)
            .attr("stroke-linejoin", "round");
    });

    const axB = gr.append("g")
        .attr("transform", `translate(0,${panelH})`)
        .call(d3.axisBottom(xr).tickValues(drawTicks).tickFormat(d3.format("d")).tickSize(0).tickPadding(18));
    styleAxis(axB, 26);

    const axY = gr.append("g")
        .call(d3.axisLeft(yr).tickValues(row.traceTicks).tickFormat(d3.format(row.traceFmt)).tickSize(0).tickPadding(12));
    styleAxis(axY, 21);

    let maxW = 0;
    axY.selectAll(".tick text").each(function () { maxW = Math.max(maxW, this.getComputedTextLength()); });

    gr.append("text")
        .attr("x", panelW / 2)
        .attr("y", panelH + 87)
        .attr("text-anchor", "middle")
        .attr("font-size", 40)
        .attr("fill", labelColor)
        .text("Draw");

    gr.append("text")
        .attr("transform", `translate(${-12 - maxW - 16},${panelH / 2}) rotate(-90)`)
        .attr("text-anchor", "middle")
        .attr("font-size", 40)
        .attr("fill", labelColor)
        .text(row.name);
});
</script>
</body>
</html>
